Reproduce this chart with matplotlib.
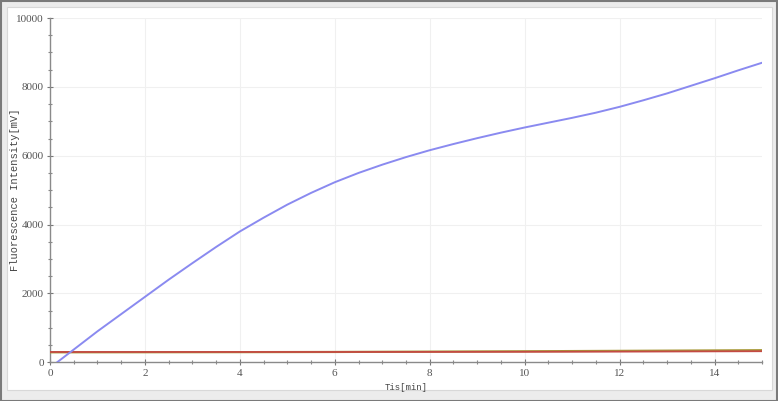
import matplotlib
matplotlib.use("Agg")
import matplotlib.pyplot as plt
from matplotlib.patches import Rectangle
from matplotlib.ticker import MultipleLocator

# Data
time_blue = [0.15, 0.5, 1.0, 1.5, 2.0, 2.5, 3.0, 3.5, 4.0, 4.5, 5.0, 5.5, 6.0, 6.5, 7.0,
             7.5, 8.0, 8.5, 9.0, 9.5, 10.0, 10.5, 11.0, 11.5, 12.0, 12.5, 13.0, 13.5,
             14.0, 14.5, 15.0]
blue_vals = [0, 370, 900, 1400, 1900, 2400, 2880, 3350, 3800, 4200, 4580, 4920, 5230,
             5500, 5740, 5960, 6160, 6340, 6510, 6670, 6820, 6960, 7100, 7250, 7420,
             7610, 7810, 8030, 8250, 8480, 8700]

time_flat = [0, 2, 4, 6, 8, 10, 12, 14, 15]
red_vals = [300, 300, 300, 300, 302, 305, 310, 318, 322]
olive_vals = [290, 292, 295, 300, 310, 320, 332, 345, 352]

x_ticks = [0, 2, 4, 6, 8, 10, 12, 14]
y_ticks = [0, 2000, 4000, 6000, 8000, 10000]

W, H = 778, 401
fig = plt.figure(figsize=(W / 100, H / 100), dpi=100)
fig.patch.set_facecolor("#ececec")

# outer frame decoration
fig.patches.append(Rectangle((7 / W, (H - 390) / H), (772 - 7) / W, (390 - 7) / H,
                             transform=fig.transFigure, facecolor="white",
                             edgecolor="#d8d8d8", linewidth=0.8, zorder=-5))
fig.patches.append(Rectangle((0.5 / W, 0.5 / H), (W - 1.5) / W, (H - 1.5) / H,
                             transform=fig.transFigure, facecolor="none",
                             edgecolor="#7a7a7a", linewidth=1.5, zorder=-4))

ax = fig.add_axes([50 / W, (H - 362.3) / H, (762 - 50) / W, (362.3 - 18) / H])
ax.set_facecolor("none")

ax.plot(time_flat, olive_vals, color="#a89a3a", linewidth=1.6, zorder=3)
ax.plot(time_flat, red_vals, color="#c44a44", linewidth=1.3, zorder=4)
ax.plot(time_blue, blue_vals, color="#8a8af0", linewidth=1.4, zorder=5)

ax.set_xlim(0, 15)
ax.set_ylim(0, 10000)
ax.set_xticks(x_ticks)
ax.set_yticks(y_ticks)
ax.xaxis.set_minor_locator(MultipleLocator(0.5))
ax.yaxis.set_minor_locator(MultipleLocator(500))

for s in ["top", "right"]:
    ax.spines[s].set_visible(False)
for s in ["left", "bottom"]:
    ax.spines[s].set_color("#8a8a8a")
    ax.spines[s].set_linewidth(1.0)

ax.grid(True, which="major", color="#f0f0f0", linewidth=0.8)
ax.set_axisbelow(True)

ax.tick_params(axis="both", which="major", direction="inout", length=5, width=0.8,
               color="#777777", labelsize=7, labelcolor="#555555", pad=2)
ax.tick_params(axis="both", which="minor", direction="inout", length=3, width=0.8,
               color="#888888")
for lab in ax.get_xticklabels() + ax.get_yticklabels():
    lab.set_fontfamily("Liberation Serif")
    lab.set_fontsize(8)

ax.set_xlabel("Tis[min]", fontfamily="Liberation Mono", fontsize=6.5, color="#444444")
ax.set_ylabel("Fluorescence Intensity[mV]", fontfamily="Liberation Mono", fontsize=7.5,
              color="#444444")
ax.yaxis.set_label_coords(-0.05, 0.5)
ax.yaxis.label.set_horizontalalignment("center")
ax.yaxis.label.set_verticalalignment("center")
ax.yaxis.set_label_coords(-0.049, 0.5)
ax.xaxis.set_label_coords(0.5, -0.06)

fig.savefig("out.png", dpi=100, facecolor=fig.get_facecolor())
